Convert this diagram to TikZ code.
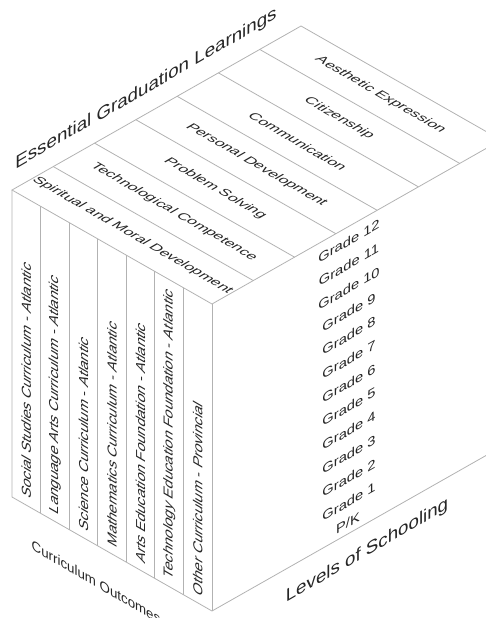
\documentclass[tikz,border=0pt]{standalone}
\usepackage{fontspec}
\setmainfont{Liberation Sans}
\usetikzlibrary{calc,positioning}
\tikzset{%
	edge/.style      = {draw=gray!60, line width=0.8pt},
	toplabel/.style  = {transform shape, cm={1.04,-0.6,0.866,0.5,(0,0)}, font=\fontsize{13}{15}\selectfont, text=black!85, inner sep=0pt},
	sidelabel/.style = {transform shape, cm={0,1,-0.866,0.5,(0,0)}, font=\fontsize{15}{17}\selectfont, text=black!85, inner sep=0pt},
	gradelabel/.style= {transform shape, cm={1.13,0.65,0,1,(0,0)}, font=\fontsize{13}{15}\selectfont, text=black!85, inner sep=0pt},
	axislabel/.style = {transform shape, cm={1.04,0.6,0,1,(0,0)}, font=\fontsize{18}{20}\selectfont, text=black!85, inner sep=0pt},
	floorlabel/.style= {transform shape, cm={0.95,-0.55,0,1,(0,0)}, font=\fontsize{14}{16}\selectfont, text=black!85, inner sep=0pt},
}
\begin{document}
\begin{tikzpicture}[x=1pt,y=-1pt]
	\useasboundingbox (0,0) rectangle (486,618);
	\clip (0,0) rectangle (486,618);
	% corners of the cube
	\coordinate (L)  at (12,190);
	\coordinate (B)  at (301,26);
	\coordinate (F)  at (212,304);
	\coordinate (R)  at (501,140);
	\coordinate (LB) at (12,497);
	\coordinate (FB) at (212,611);
	\coordinate (RB) at (501,447);
	\coordinate (M1) at ($(L)!0.5!(F)$);
	\coordinate (M2) at ($(B)!0.5!(R)$);
	\draw[edge] (L) -- (B) -- (R) -- (F) -- cycle;
	\draw[edge] (L) -- (LB) -- (FB) -- (RB) -- (R);
	\draw[edge] (F) -- (FB);
	\foreach \k in {1,...,6}{
		\draw[edge] ($(L)!\k/7!(B)$) -- ($(F)!\k/7!(R)$);
		\draw[edge] ($(L)!\k/7!(F)$) -- ($(LB)!\k/7!(FB)$);
	}
	% top face
	\foreach \name [count=\k] in {Spiritual and Moral Development,Technological Competence,Problem Solving,Personal Development,Communication,Citizenship,Aesthetic Expression}
		\node[toplabel] (egl\k) at ($(M1)!{(\k-0.5)/7}!(M2)$) {\name};
	% left face
	\foreach \name [count=\k] in {Social Studies Curriculum - Atlantic,Language Arts Curriculum - Atlantic,Science Curriculum - Atlantic,Mathematics Curriculum - Atlantic,Arts Education Foundation - Atlantic,Technology Education Foundation - Atlantic,Other Curriculum - Provincial}
		\node[sidelabel,anchor=west] (co\k) at ($($(LB)!{(\k-0.5)/7}!(FB)$)+(0,-8)$) {\name};
	% right face
	\foreach \g in {1,...,12}
		\node[gradelabel] (gr\g) at (349,{241+23.7*(12-\g)}) {Grade \g};
	\node[gradelabel] (pk) at (348,523) {P/K};
	% axis titles
	\node[axislabel] (egl) at (146,89) {Essential Graduation Learnings};
	\node[axislabel] (los) at (367,551) {Levels of Schooling};
	\node[floorlabel] (cur) at (96,582) {Curriculum Outcomes};
\end{tikzpicture}
\end{document}
